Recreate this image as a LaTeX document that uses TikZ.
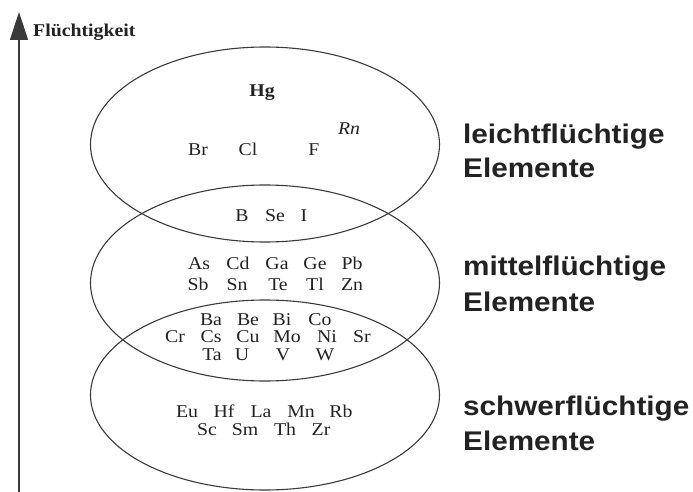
\documentclass[tikz,border=0pt]{standalone}
\usepackage{fontspec}
\usetikzlibrary{shapes.geometric,arrows.meta}
\newfontfamily\elfont{Liberation Serif}[FakeStretch=1.1]
\newfontfamily\lblfont{Liberation Sans}[FakeStretch=1.1]
\definecolor{ink}{HTML}{222222}
\definecolor{linec}{HTML}{3A3A3A}
\tikzset{
  el/.style={anchor=base,inner sep=0pt,text=ink,font=\elfont\fontsize{18}{20}\selectfont},
  grp/.style={anchor=base west,inner sep=0pt,text=ink,font=\lblfont\bfseries\fontsize{27}{30}\selectfont},
  blob/.style={ellipse,draw=linec,line width=1.1pt,inner sep=0pt,minimum width=349pt},
}
\begin{document}
\begin{tikzpicture}[x=1pt,y=-1pt]
\useasboundingbox (0,0) rectangle (693,492);
% axis
\coordinate (axbot) at (19,492);
\coordinate (axtop) at (19,12);
\draw[line width=1.4pt,draw=linec,-{Triangle[length=28pt,width=18pt]}] (axbot) -- (axtop);
\node[anchor=base west,inner sep=0pt,text=ink,font=\elfont\bfseries\fontsize{18}{20}\selectfont] (axlbl) at (33,37) {Flüchtigkeit};
% ellipses
\node[blob,minimum height=195pt] (e1) at (265,144.5) {};
\node[blob,minimum height=196pt] (e2) at (265,283) {};
\node[blob,minimum height=190pt] (e3) at (265,395) {};
% top
\node[el,font=\elfont\bfseries\fontsize{18}{20}\selectfont] (Hg) at (262,97) {Hg};
\node[el,font=\elfont\itshape\fontsize{18}{20}\selectfont] (Rn) at (349,135) {Rn};
\node[el] (Br) at (198,155) {Br};
\node[el] (Cl) at (248,155) {Cl};
\node[el] (F) at (314,155) {F};
\node[el] (B) at (242,221) {B};
\node[el] (Se) at (275,221) {Se};
\node[el] (I) at (304,221) {I};
% middle
\node[el] (As) at (199,269) {As};
\node[el] (Cd) at (238,269) {Cd};
\node[el] (Ga) at (277,269) {Ga};
\node[el] (Ge) at (315,269) {Ge};
\node[el] (Pb) at (352,269) {Pb};
\node[el] (Sb) at (198,290) {Sb};
\node[el] (Sn) at (237,290) {Sn};
\node[el] (Te) at (278,290) {Te};
\node[el] (Tl) at (315,290) {Tl};
\node[el] (Zn) at (352,290) {Zn};
% overlap middle/bottom
\node[el] (Ba) at (211,325) {Ba};
\node[el] (Be) at (248,325) {Be};
\node[el] (Bi) at (282,325) {Bi};
\node[el] (Co) at (320,325) {Co};
\node[el] (Cr) at (175,342) {Cr};
\node[el] (Cs) at (211,342) {Cs};
\node[el] (Cu) at (248,342) {Cu};
\node[el] (Mo) at (287,342) {Mo};
\node[el] (Ni) at (327,342) {Ni};
\node[el] (Sr) at (362,342) {Sr};
\node[el] (Ta) at (212,360) {Ta};
\node[el] (U) at (242,360) {U};
\node[el] (V) at (283,360) {V};
\node[el] (W) at (325,360) {W};
% bottom
\node[el] (Eu) at (187,417) {Eu};
\node[el] (Hf) at (224,417) {Hf};
\node[el] (La) at (261,417) {La};
\node[el] (Mn) at (301,417) {Mn};
\node[el] (Rb) at (341,417) {Rb};
\node[el] (Sc) at (207,435) {Sc};
\node[el] (Sm) at (245,435) {Sm};
\node[el] (Th) at (285,435) {Th};
\node[el] (Zr) at (321,435) {Zr};
% group labels
\node[grp] (g1a) at (463,143) {leichtflüchtige};
\node[grp] (g1b) at (463,177) {Elemente};
\node[grp] (g2a) at (463,275) {mittelflüchtige};
\node[grp] (g2b) at (463,311) {Elemente};
\node[grp] (g3a) at (463,415) {schwerflüchtige};
\node[grp] (g3b) at (463,450) {Elemente};
\end{tikzpicture}
\end{document}
